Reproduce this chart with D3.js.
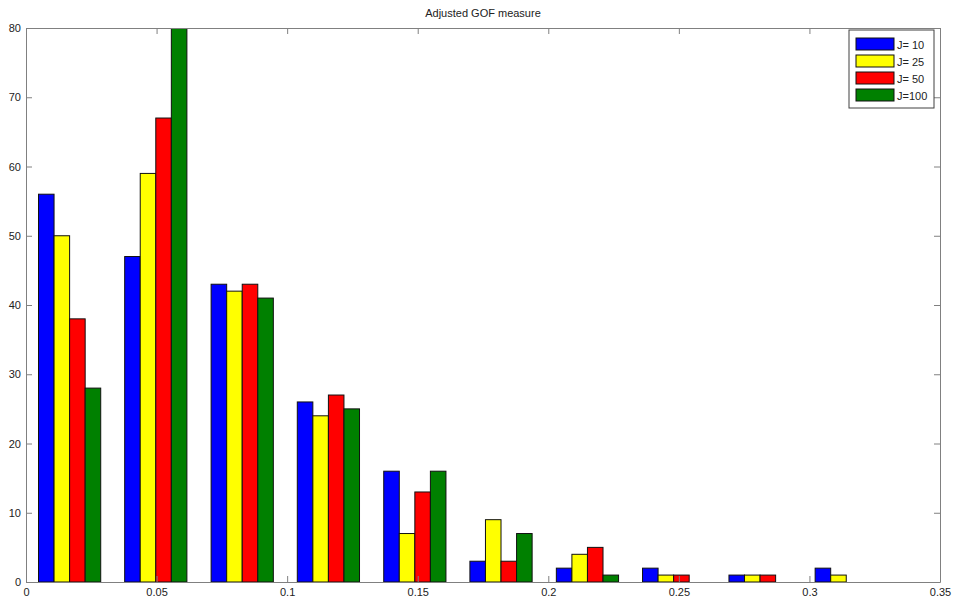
<!DOCTYPE html>
<html>
<head>
<meta charset="utf-8">
<script src="https://cdn.jsdelivr.net/npm/d3@7"></script>
<style>
  html, body { margin: 0; padding: 0; background: #fff; }
  svg { display: block; font-family: Arial, "Liberation Sans", sans-serif; }
</style>
</head>
<body>
<svg id="chart" width="956" height="602"></svg>
<script>
// Histogram bin centres (x) and counts per number of groups J
const binCenters = [0.0167, 0.0497, 0.0828, 0.1158, 0.1489, 0.1819, 0.2150, 0.2480, 0.2811, 0.3141];
const seriesNames = ["J= 10", "J= 25", "J= 50", "J=100"];
const seriesColors = ["#0000ff", "#ffff00", "#ff0000", "#008000"];
const countsJ10  = [56, 47, 43, 26, 16, 3, 2, 2, 1, 2];
const countsJ25  = [50, 59, 42, 24, 7, 9, 4, 1, 1, 1];
const countsJ50  = [38, 67, 43, 27, 13, 3, 5, 1, 1, 0];
const countsJ100 = [28, 80, 41, 25, 16, 7, 1, 0, 0, 0];
const xTicks = [0, 0.05, 0.1, 0.15, 0.2, 0.25, 0.3, 0.35];
const yTicks = [0, 10, 20, 30, 40, 50, 60, 70, 80];
const titleText = "Adjusted GOF measure";

const series = [countsJ10, countsJ25, countsJ50, countsJ100];

const margin = { left: 26, right: 16, top: 28, bottom: 20 };
const W = 956, H = 602;
const svg = d3.select("#chart");

const x = d3.scaleLinear().domain([0, 0.35]).range([margin.left, W - margin.right]);
const y = d3.scaleLinear().domain([0, 80]).range([H - margin.bottom, margin.top]);

const binStep = binCenters[1] - binCenters[0];
const groupPx = (x(binStep) - x(0)) * 0.722;
const inner = d3.scaleBand().domain(d3.range(series.length)).range([-groupPx / 2, groupPx / 2]);

const axisColor = "#808080";
const textColor = "#222";

// Bars, clipped to the axes box
const clipId = "plotClip";
svg.append("defs").append("clipPath").attr("id", clipId)
  .append("rect")
  .attr("x", x(0)).attr("y", y(80))
  .attr("width", x(0.35) - x(0)).attr("height", y(0) - y(80));

const barsG = svg.append("g").attr("clip-path", `url(#${clipId})`);
series.forEach((vals, si) => {
  barsG.selectAll(null)
    .data(vals.map((v, i) => ({ v, c: binCenters[i] })).filter(d => d.v > 0))
    .enter().append("rect")
    .attr("x", d => x(d.c) + inner(si))
    .attr("y", d => y(d.v))
    .attr("width", inner.bandwidth())
    .attr("height", d => y(0) - y(d.v))
    .attr("fill", seriesColors[si])
    .attr("stroke", "#111")
    .attr("stroke-width", 1);
});

// Axes box with inward ticks on all four sides
const tickLen = 6;
const axBottom = d3.axisBottom(x).tickValues(xTicks).tickSize(-tickLen).tickSizeOuter(0).tickPadding(6)
  .tickFormat(d => d3.format("~g")(d));
const axTop = d3.axisTop(x).tickValues(xTicks).tickSize(-tickLen).tickSizeOuter(0).tickFormat("");
const axLeft = d3.axisLeft(y).tickValues(yTicks).tickSize(-tickLen).tickSizeOuter(0).tickPadding(5);
const axRight = d3.axisRight(y).tickValues(yTicks).tickSize(-tickLen).tickSizeOuter(0).tickFormat("");

function style(g) {
  g.select(".domain").attr("stroke", axisColor);
  g.selectAll(".tick line").attr("stroke", axisColor);
  g.selectAll(".tick text").attr("fill", textColor).style("font-size", "11px")
    .style("font-family", "Arial, 'Liberation Sans', sans-serif");
}

svg.append("g").attr("transform", `translate(0,${y(0)})`).call(axBottom).call(style);
svg.append("g").attr("transform", `translate(0,${y(80)})`).call(axTop).call(style);
svg.append("g").attr("transform", `translate(${x(0)},0)`).call(axLeft).call(style);
svg.append("g").attr("transform", `translate(${x(0.35)},0)`).call(axRight).call(style);

// Title
svg.append("text")
  .attr("x", (x(0) + x(0.35)) / 2).attr("y", 17)
  .attr("text-anchor", "middle")
  .attr("fill", textColor)
  .style("font-size", "11px")
  .text(titleText);

// Legend
const lg = svg.append("g").attr("transform", "translate(849,30)");
lg.append("rect").attr("width", 85).attr("height", 78)
  .attr("fill", "#fff").attr("stroke", "#404040");
seriesNames.forEach((name, i) => {
  const row = lg.append("g").attr("transform", `translate(7,${8 + i * 17})`);
  row.append("rect").attr("width", 38).attr("height", 12)
    .attr("fill", seriesColors[i]).attr("stroke", "#111");
  row.append("text").attr("x", 41).attr("y", 10.5)
    .attr("fill", textColor).style("font-size", "11px").text(name);
});
</script>
</body>
</html>
